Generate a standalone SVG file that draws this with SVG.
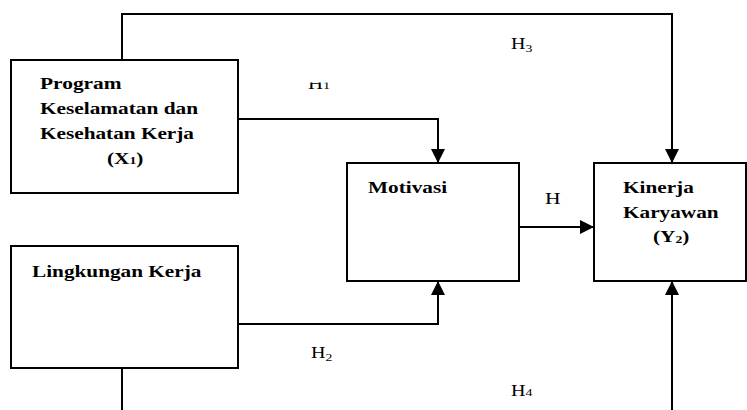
<svg xmlns="http://www.w3.org/2000/svg" width="747" height="410" viewBox="0 0 747 410">
<style>
.box{fill:#fff;stroke:#000;stroke-width:2}
.ln{fill:none;stroke:#000;stroke-width:2}
.t{font-size:17px;font-weight:bold;fill:#000}
.l{font-size:16px;fill:#000}
.s{font-size:11px}
</style>
<defs>
<marker id="ah" viewBox="0 0 14 14" refX="14" refY="7" markerWidth="14" markerHeight="14" markerUnits="userSpaceOnUse" orient="auto"><path d="M0,0L14,7L0,14Z" fill="#000"/></marker>
<clipPath id="c1"><rect x="-20" y="-6.5" width="60" height="20"/></clipPath>
</defs>
<g id="connectors" font-family="Liberation Serif, serif">
<path class="ln" d="M122,60V14H672V163" marker-end="url(#ah)"/>
<path class="ln" d="M238,119H438V163" marker-end="url(#ah)"/>
<path class="ln" d="M519,227H594" marker-end="url(#ah)"/>
<path class="ln" d="M238,324H438V281" marker-end="url(#ah)"/>
<path class="ln" d="M122,368V410"/>
<path class="ln" d="M672,410V281" marker-end="url(#ah)"/>
<text class="l" transform="translate(308,89) scale(1.3,1)" clip-path="url(#c1)">H<tspan class="s">1</tspan></text>
<text class="l" transform="translate(511,49) scale(1.25,1)">H<tspan class="s" dy="3">3</tspan></text>
<text class="l" transform="translate(545,204) scale(1.35,1)">H</text>
<text class="l" transform="translate(311,358) scale(1.25,1)">H<tspan class="s" dy="3">2</tspan></text>
<text class="l" transform="translate(511,396) scale(1.25,1)">H<tspan class="s">4</tspan></text>
</g>
<g id="node-x1" font-family="Liberation Serif, serif">
<rect class="box" x="11" y="60" width="227" height="133"/>
<text class="t" transform="translate(40,89) scale(1.26,1)">Program</text>
<text class="t" transform="translate(40,114) scale(1.255,1)">Keselamatan dan</text>
<text class="t" transform="translate(40,139) scale(1.25,1)">Kesehatan Kerja</text>
<text class="t" transform="translate(107,164) scale(1.25,1)">(X<tspan class="s">1</tspan>)</text>
</g>
<g id="node-x2" font-family="Liberation Serif, serif">
<rect class="box" x="11" y="246" width="227" height="122"/>
<text class="t" transform="translate(32,277) scale(1.25,1)">Lingkungan Kerja</text>
</g>
<g id="node-motivasi" font-family="Liberation Serif, serif">
<rect class="box" x="347" y="163" width="172" height="118"/>
<text class="t" transform="translate(368,193) scale(1.25,1)">Motivasi</text>
</g>
<g id="node-kinerja" font-family="Liberation Serif, serif">
<rect class="box" x="594" y="163" width="152" height="118"/>
<text class="t" transform="translate(623,193) scale(1.25,1)">Kinerja</text>
<text class="t" transform="translate(623,218) scale(1.25,1)">Karyawan</text>
<text class="t" transform="translate(653,242) scale(1.25,1)">(Y<tspan class="s" dy="1">2</tspan><tspan dy="-1">)</tspan></text>
</g>
</svg>
